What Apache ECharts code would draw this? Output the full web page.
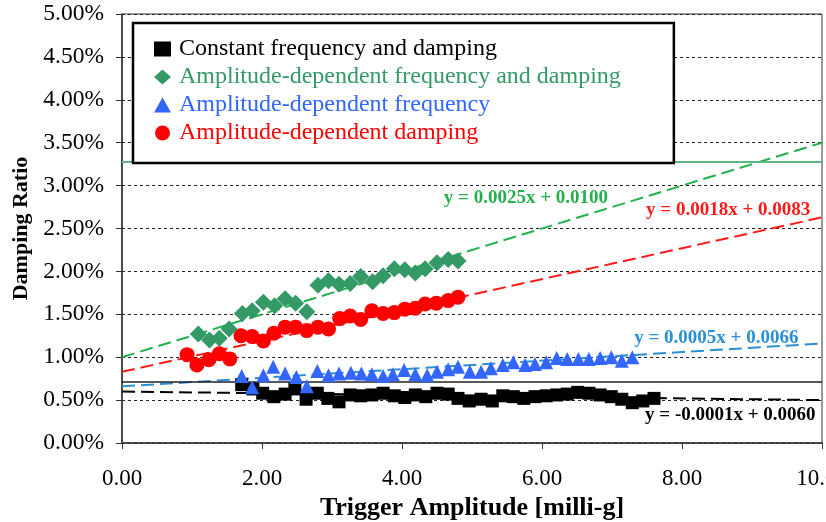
<!DOCTYPE html>
<html>
<head>
<meta charset="utf-8">
<script src="https://cdn.jsdelivr.net/npm/echarts@6/dist/echarts.min.js"></script>
<style>
  html, body { margin: 0; padding: 0; background: #fff; }
  #chart { width: 826px; height: 522px; }
</style>
</head>
<body>
<div id="chart"></div>
<script>
// Trigger amplitude [milli-g] and damping ratio [%] per identification method
const seriesNames = [
  'Constant frequency and damping',
  'Amplitude-dependent frequency and damping',
  'Amplitude-dependent frequency',
  'Amplitude-dependent damping',
];

const blackX = [1.71, 1.87, 2.01, 2.17, 2.33, 2.47, 2.63, 2.79, 2.94, 3.10, 3.26, 3.41, 3.57, 3.73, 3.89, 4.04, 4.19, 4.34, 4.50, 4.66, 4.80, 4.96, 5.13, 5.29, 5.44, 5.59, 5.74, 5.90, 6.06, 6.21, 6.36, 6.51, 6.67, 6.83, 6.99, 7.14, 7.29, 7.44, 7.60];
const blackY = [0.68, 0.63, 0.58, 0.54, 0.57, 0.63, 0.51, 0.58, 0.52, 0.48, 0.56, 0.55, 0.56, 0.58, 0.55, 0.53, 0.56, 0.54, 0.58, 0.57, 0.52, 0.49, 0.51, 0.49, 0.55, 0.54, 0.52, 0.54, 0.55, 0.56, 0.57, 0.59, 0.58, 0.56, 0.54, 0.51, 0.47, 0.49, 0.52];

const greenX = [1.09, 1.25, 1.39, 1.53, 1.72, 1.86, 2.02, 2.18, 2.33, 2.48, 2.64, 2.80, 2.95, 3.10, 3.26, 3.41, 3.58, 3.73, 3.89, 4.04, 4.19, 4.33, 4.50, 4.66, 4.80];
const greenY = [1.27, 1.20, 1.22, 1.33, 1.51, 1.54, 1.64, 1.60, 1.68, 1.63, 1.53, 1.84, 1.89, 1.85, 1.86, 1.94, 1.88, 1.95, 2.03, 2.02, 1.98, 2.03, 2.10, 2.14, 2.12];

const blueX = [1.71, 1.86, 2.02, 2.16, 2.33, 2.49, 2.64, 2.79, 2.95, 3.10, 3.27, 3.42, 3.57, 3.73, 3.87, 4.03, 4.19, 4.36, 4.50, 4.66, 4.80, 4.97, 5.13, 5.27, 5.44, 5.59, 5.76, 5.90, 6.06, 6.21, 6.36, 6.52, 6.67, 6.83, 6.99, 7.14, 7.29];
const blueY = [0.78, 0.65, 0.79, 0.89, 0.81, 0.77, 0.66, 0.84, 0.79, 0.81, 0.82, 0.81, 0.80, 0.78, 0.80, 0.85, 0.80, 0.79, 0.83, 0.86, 0.89, 0.83, 0.83, 0.87, 0.91, 0.94, 0.91, 0.92, 0.94, 0.99, 0.98, 0.98, 0.98, 0.99, 1.00, 0.96, 1.00];

const redX = [0.93, 1.07, 1.24, 1.39, 1.54, 1.70, 1.86, 2.02, 2.17, 2.33, 2.48, 2.64, 2.80, 2.95, 3.11, 3.26, 3.41, 3.57, 3.73, 3.89, 4.04, 4.19, 4.33, 4.49, 4.66, 4.80];
const redY = [1.03, 0.91, 0.97, 1.04, 0.98, 1.25, 1.24, 1.19, 1.28, 1.35, 1.35, 1.31, 1.35, 1.33, 1.45, 1.48, 1.44, 1.54, 1.51, 1.52, 1.56, 1.57, 1.62, 1.63, 1.66, 1.70];

// linear trend lines, y = slope * x + intercept (y as a ratio)
const trendSlopes = [-0.0001, 0.0025, 0.0005, 0.0018];
const trendIntercepts = [0.0060, 0.0100, 0.0066, 0.0083];
const trendLabels = ['y = -0.0001x + 0.0060', 'y = 0.0025x + 0.0100', 'y = 0.0005x + 0.0066', 'y = 0.0018x + 0.0083'];
// where each equation sits, in data units [x, y%]
const trendLabelAt = [[8.69, 0.32], [5.77, 2.86], [8.49, 1.22], [8.66, 2.72]];

// horizontal reference levels [%]
const refLevels = [3.28, 0.714];

const xTicks = [0, 2, 4, 6, 8, 10];

const font = '"Liberation Serif", "Times New Roman", serif';
const markerColors = ['#000000', '#339966', '#3366ff', '#ff0000'];
const trendColors = ['#000000', '#22b14c', '#2b8fd6', '#ff1a1a'];
const symbols = ['rect', 'diamond', 'triangle', 'circle'];
const symbolSizes = [13, 17, 14, 15];

const xs = [blackX, greenX, blueX, redX];
const ys = [blackY, greenY, blueY, redY];

const chart = echarts.init(document.getElementById('chart'));

const series = [];

// trend lines first so the markers sit on top
trendSlopes.forEach((m, i) => {
  const b = trendIntercepts[i];
  const x0 = xTicks[0];
  const x1 = xTicks[xTicks.length - 1];
  series.push({
    name: `trend-${i}`,
    type: 'line',
    data: [[x0, (m * x0 + b) * 100], [x1, (m * x1 + b) * 100]],
    symbol: 'none',
    silent: true,
    z: 2,
    lineStyle: { color: trendColors[i], width: 2, type: [13, 6] },
    markPoint: {
      symbol: 'rect',
      symbolSize: 0,
      silent: true,
      data: [{
        coord: trendLabelAt[i],
        label: {
          show: true,
          formatter: trendLabels[i],
          color: trendColors[i],
          fontFamily: font,
          fontWeight: 'bold',
          fontSize: 19,
        },
      }],
    },
  });
});

series.push({
  name: 'levels',
  type: 'line',
  data: [],
  silent: true,
  markLine: {
    symbol: 'none',
    silent: true,
    label: { show: false },
    data: [
      { yAxis: refLevels[0], lineStyle: { color: '#5fb57f', width: 2, type: 'solid' } },
      { yAxis: refLevels[1], lineStyle: { color: '#222', width: 1.5, type: 'solid' } },
    ],
  },
});

seriesNames.forEach((name, i) => {
  series.push({
    name,
    type: 'scatter',
    data: xs[i].map((x, k) => [x, ys[i][k]]),
    symbol: symbols[i],
    symbolSize: symbolSizes[i],
    z: 5,
    itemStyle: { color: markerColors[i], opacity: 1 },
  });
});

const option = {
  animation: false,
  backgroundColor: '#fff',
  grid: {
    left: 122,
    right: 4,
    top: 14,
    bottom: 79,
    outerBoundsMode: 'none',
    show: true,
    borderColor: '#333',
    borderWidth: 1,
  },
  legend: {
    data: seriesNames.map((name, i) => ({
      name,
      icon: symbols[i],
      textStyle: { color: markerColors[i] },
    })),
    orient: 'vertical',
    left: 133,
    top: 23,
    padding: [14, 53, 18, 21],
    itemGap: 4,
    itemWidth: 17,
    itemHeight: 15,
    backgroundColor: '#fff',
    borderColor: '#000',
    borderWidth: 2.5,
    textStyle: { fontFamily: font, fontSize: 24, padding: [0, 0, 0, 3] },
    z: 10,
  },
  xAxis: {
    type: 'value',
    min: 0,
    max: 10,
    interval: 2,
    name: 'Trigger Amplitude [milli-g]',
    nameLocation: 'middle',
    nameGap: 49,
    nameTextStyle: { fontFamily: font, fontWeight: 'bold', fontSize: 26, color: '#000' },
    axisLine: { lineStyle: { color: '#333', width: 1.5 } },
    axisTick: { show: true, length: 6, lineStyle: { color: '#333' } },
    axisLabel: {
      fontFamily: font,
      fontSize: 23,
      color: '#000',
      margin: 24,
      formatter: (v) => v.toFixed(2),
    },
    splitLine: { show: false },
  },
  yAxis: {
    type: 'value',
    min: 0,
    max: 5,
    interval: 0.5,
    name: 'Damping Ratio',
    nameLocation: 'middle',
    nameGap: 88,
    nameTextStyle: { fontFamily: font, fontWeight: 'bold', fontSize: 22, color: '#000' },
    axisLine: { lineStyle: { color: '#333', width: 1.5 } },
    axisTick: { show: true, length: 6, lineStyle: { color: '#333' } },
    axisLabel: {
      fontFamily: font,
      fontSize: 23.5,
      color: '#000',
      margin: 18,
      formatter: (v) => `${v.toFixed(2)}%`,
    },
    splitLine: { show: true, lineStyle: { color: '#222', width: 1, type: [3, 3] } },
  },
  series,
};

chart.setOption(option);
</script>
</body>
</html>
